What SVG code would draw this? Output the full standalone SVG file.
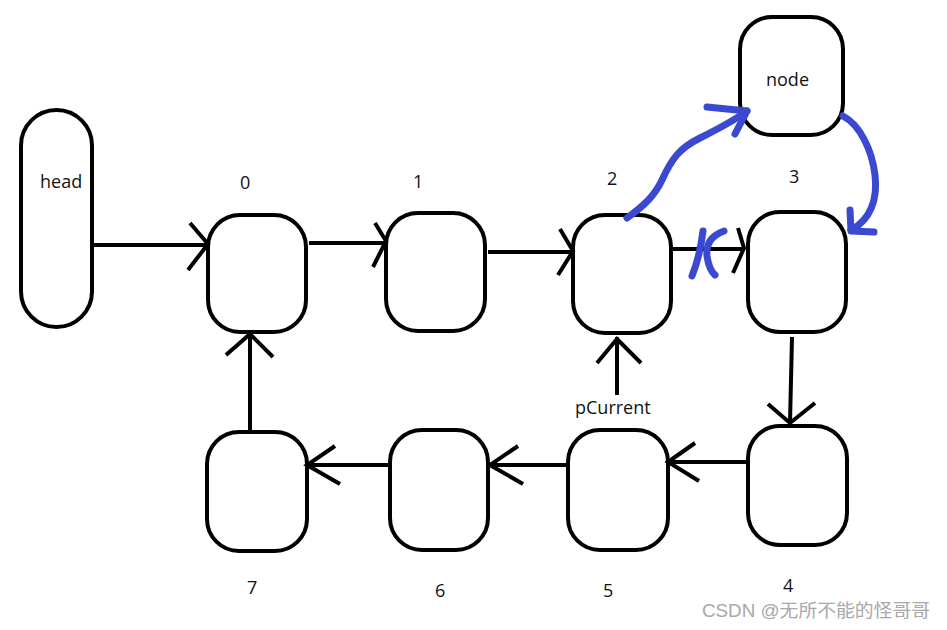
<svg xmlns="http://www.w3.org/2000/svg" width="947" height="630" viewBox="0 0 947 630">
<style>
.n{fill:#fff;stroke:#000;stroke-width:4}
.t{font-family:"Open Sans","Liberation Sans",sans-serif;font-size:18px;fill:#111}
.c{fill:none;stroke:#000;stroke-width:4;stroke-linecap:butt}
.b{fill:none;stroke:#3b48d0;stroke-width:7;stroke-linecap:round;stroke-linejoin:round}
.w{font-family:"Liberation Sans","Noto Sans CJK SC",sans-serif;font-size:18px;fill:#a8a8a8}
</style>
<rect width="947" height="630" fill="#fff"/>
<g id="head"><rect class="n" x="21" y="110" width="71" height="217" rx="35.5"/><text class="t" x="40" y="188">head</text></g>
<g id="n0"><rect class="n" x="208" y="215" width="98" height="117" rx="32"/><text class="t" x="240" y="189">0</text></g>
<g id="n1"><rect class="n" x="386" y="213" width="99" height="118" rx="32"/><text class="t" x="413" y="188">1</text></g>
<g id="n2"><rect class="n" x="573" y="215" width="98" height="118" rx="32"/><text class="t" x="607" y="185">2</text></g>
<g id="n3"><rect class="n" x="748" y="212" width="98" height="120" rx="32"/><text class="t" x="789" y="183">3</text></g>
<g id="node"><rect class="n" x="740" y="17" width="103" height="118" rx="32"/><text class="t" x="766" y="86">node</text></g>
<g id="n4"><rect class="n" x="748" y="426" width="99" height="119" rx="32"/><text class="t" x="783" y="592">4</text></g>
<g id="n5"><rect class="n" x="568" y="430" width="100" height="120" rx="32"/><text class="t" x="603" y="597">5</text></g>
<g id="n6"><rect class="n" x="390" y="430" width="98" height="120" rx="32"/><text class="t" x="435" y="597">6</text></g>
<g id="n7"><rect class="n" x="207" y="432" width="100" height="119" rx="32"/><text class="t" x="247" y="594">7</text></g>
<g id="pCurrent"><text class="t" x="575" y="414">pCurrent</text></g>
<g id="connectors">
<path class="c" d="M92,245 H208 M190,223 L208,244 L188,270"/>
<path class="c" d="M309,243 H386 M375,223 L386,241 L373,267"/>
<path class="c" d="M488,252 H573 M560,229 L573,251 L558,275"/>
<path class="c" d="M671,249 H744 M738,228 L744,248 L733,273"/>
<path class="c" d="M792,337 L790,423 M768,404 L790,423 L815,403"/>
<path class="c" d="M747,462 H668 M695,443 L668,462 L699,481"/>
<path class="c" d="M567,465 H489 M518,446 L490,465 L523,484"/>
<path class="c" d="M390,465 H307 M335,446 L307,465 L340,484"/>
<path class="c" d="M250,432 V334 M226,355 L250,334 L273,357"/>
<path class="c" d="M617,395 V337 M597,363 L617,339 L641,363"/>
<path class="b" d="M627,218 C645,205 655,195 662,180 C672,158 680,148 700,138 C720,128 735,120 747,111"/>
<path class="b" d="M707,107 L747,111 L735,134"/>
<path class="b" d="M843,116 C860,125 872,150 875,175 C878,200 870,220 851,230"/>
<path class="b" d="M850,210 L851,231 L874,232"/>
<path class="b" d="M703,231 Q700,256 692,276"/>
<path class="b" d="M724,231 Q705,238 707,256 Q709,270 715,275"/>
</g>
<text class="w" x="702" y="617" textLength="228" lengthAdjust="spacingAndGlyphs">CSDN @无所不能的怪哥哥</text>
</svg>
